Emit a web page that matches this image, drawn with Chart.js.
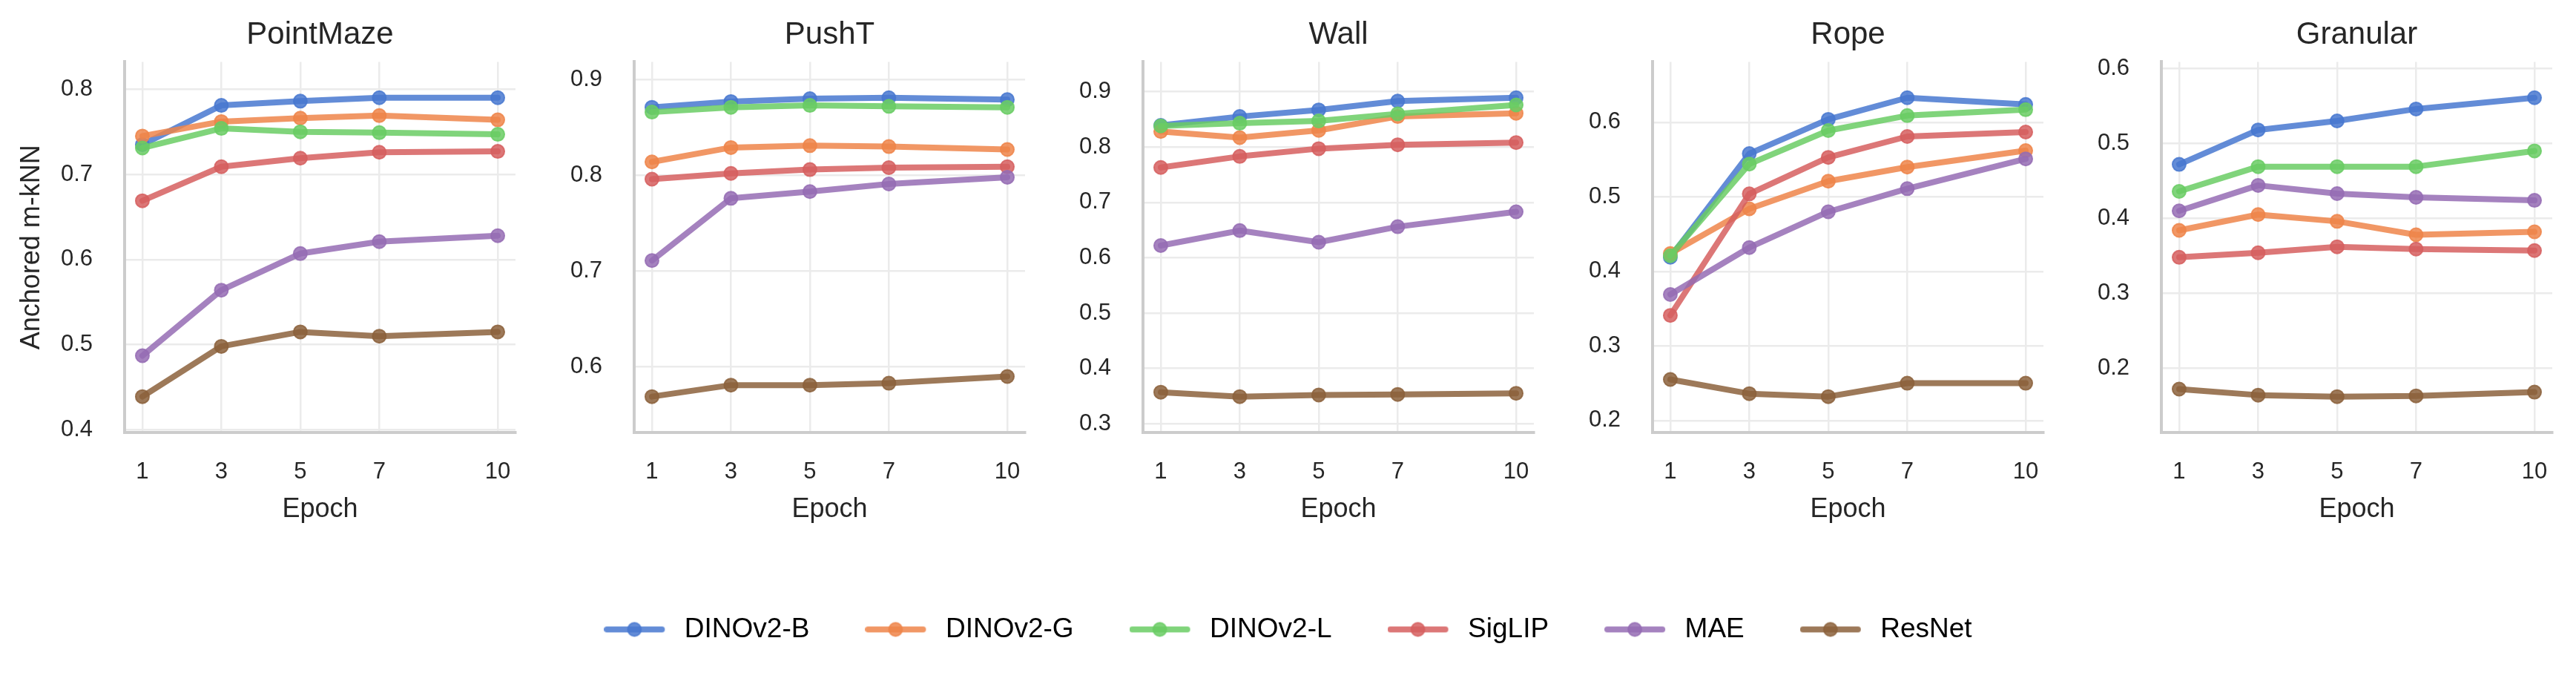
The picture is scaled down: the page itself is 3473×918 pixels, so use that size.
<!DOCTYPE html>
<html>
<head>
<meta charset="utf-8">
<script src="https://cdn.jsdelivr.net/npm/chart.js@4.4.1/dist/chart.umd.min.js"></script>
<style>
  html, body { margin: 0; padding: 0; background: #ffffff; }
  #page { position: relative; width: 3473px; height: 918px; overflow: hidden; }
  .box { position: absolute; }
</style>
</head>
<body>
<div id="page"></div>
<script>
// x values and series names
const epochs = [1, 3, 5, 7, 10];
const models = ["DINOv2-B", "DINOv2-G", "DINOv2-L", "SigLIP", "MAE", "ResNet"];
const tasks = ["PointMaze", "PushT", "Wall", "Rope", "Granular"];

// one row per model, same order as models
const pointMaze = [
    [0.735, 0.781, 0.786, 0.790, 0.790],
    [0.745, 0.762, 0.766, 0.769, 0.764],
    [0.731, 0.754, 0.750, 0.749, 0.747],
    [0.669, 0.709, 0.719, 0.726, 0.727],
    [0.487, 0.564, 0.607, 0.621, 0.628],
    [0.439, 0.498, 0.515, 0.510, 0.515]
];
const pushT = [
    [0.871, 0.877, 0.880, 0.881, 0.879],
    [0.814, 0.829, 0.831, 0.830, 0.827],
    [0.866, 0.871, 0.873, 0.872, 0.871],
    [0.796, 0.802, 0.806, 0.808, 0.809],
    [0.711, 0.776, 0.783, 0.791, 0.798],
    [0.569, 0.581, 0.581, 0.583, 0.590]
];
const wall = [
    [0.839, 0.855, 0.867, 0.883, 0.889],
    [0.828, 0.817, 0.830, 0.855, 0.861],
    [0.838, 0.843, 0.847, 0.860, 0.876],
    [0.763, 0.783, 0.797, 0.804, 0.808],
    [0.622, 0.649, 0.628, 0.656, 0.683],
    [0.357, 0.349, 0.352, 0.353, 0.355]
];
const rope = [
    [0.419, 0.558, 0.604, 0.633, 0.624],
    [0.424, 0.484, 0.521, 0.540, 0.562],
    [0.421, 0.544, 0.589, 0.609, 0.617],
    [0.341, 0.504, 0.553, 0.581, 0.587],
    [0.369, 0.432, 0.480, 0.511, 0.551],
    [0.255, 0.236, 0.232, 0.250, 0.250]
];
const granular = [
    [0.472, 0.518, 0.530, 0.546, 0.561],
    [0.384, 0.405, 0.396, 0.378, 0.382],
    [0.436, 0.469, 0.469, 0.469, 0.490],
    [0.348, 0.354, 0.362, 0.359, 0.357],
    [0.410, 0.444, 0.433, 0.428, 0.424],
    [0.172, 0.164, 0.162, 0.163, 0.168]
];

// y tick labels per panel
const pointMazeTicks = [0.4, 0.5, 0.6, 0.7, 0.8];
const pushTTicks = [0.6, 0.7, 0.8, 0.9];
const wallTicks = [0.3, 0.4, 0.5, 0.6, 0.7, 0.8, 0.9];
const ropeTicks = [0.2, 0.3, 0.4, 0.5, 0.6];
const granularTicks = [0.2, 0.3, 0.4, 0.5, 0.6];

const taskValues = [pointMaze, pushT, wall, rope, granular];
const taskTicks = [pointMazeTicks, pushTTicks, wallTicks, ropeTicks, granularTicks];

// seaborn "muted" palette, drawn with alpha
const colors = [
    "rgba(72, 120, 208, 0.85)",
    "rgba(238, 133, 74, 0.85)",
    "rgba(106, 204, 100, 0.85)",
    "rgba(214, 95, 95, 0.85)",
    "rgba(149, 108, 180, 0.85)",
    "rgba(140, 97, 60, 0.85)"
];

Chart.defaults.font.family = "'Liberation Sans', Arial, sans-serif";
Chart.defaults.color = "#262626";

var page = document.getElementById("page");

// layout of the panels (pixels)
var spineLeft = [168, 855, 1541, 2228, 2914];
var plotW = 527;
var plotBottom = 583;
var panelH = 720;

function addCanvas(left, top, w, h) {
    var div = document.createElement("div");
    div.className = "box";
    div.style.left = left + "px";
    div.style.top = top + "px";
    div.style.width = w + "px";
    div.style.height = h + "px";
    var cv = document.createElement("canvas");
    cv.width = w;
    cv.height = h;
    div.appendChild(cv);
    page.appendChild(div);
    return cv;
}

tasks.forEach(function (task, t) {
    var yAxisW = t === 0 ? 168 : 130;
    var width = yAxisW * 2 + plotW;
    var cv = addCanvas(spineLeft[t] - yAxisW, 0, width, panelH);

    // y limits: data range plus 12% each side
    var flat = [].concat.apply([], taskValues[t]);
    var lo = Math.min.apply(null, flat), hi = Math.max.apply(null, flat);
    var pad = (hi - lo) * 0.12;

    var datasets = models.map(function (m, i) {
        return {
            label: m,
            data: epochs.map(function (e, k) { return { x: e, y: taskValues[t][i][k] }; }),
            borderColor: colors[i],
            backgroundColor: colors[i],
            pointBackgroundColor: colors[i],
            pointBorderColor: colors[i],
            borderWidth: 8,
            pointRadius: 9,
            pointBorderWidth: 2,
            borderCapStyle: "round",
            borderJoinStyle: "round",
            tension: 0,
            order: models.length - i   // later series on top, as in matplotlib
        };
    });

    new Chart(cv.getContext("2d"), {
        type: "line",
        data: { datasets: datasets },
        options: {
            responsive: false,
            animation: false,
            events: [],
            layout: { padding: { left: 0, right: yAxisW, top: 0, bottom: 0 } },
            plugins: {
                legend: { display: false },
                tooltip: { enabled: false },
                title: {
                    display: true,
                    fullSize: false,   // centre over the plot area
                    text: task,
                    color: "#262626",
                    font: { size: 42, weight: "normal" },
                    padding: { top: 22, bottom: 11 }
                }
            },
            scales: {
                x: {
                    type: "linear",
                    min: 0.55,
                    max: 10.45,
                    afterFit: function (s) { s.height = panelH - plotBottom; },
                    afterBuildTicks: function (s) {
                        s.ticks = epochs.map(function (v) { return { value: v }; });
                    },
                    grid: { color: "#ebebeb", lineWidth: 2.5, drawTicks: false },
                    border: { color: "#cccccc", width: 4 },
                    ticks: {
                        padding: 35,
                        autoSkip: false,
                        maxRotation: 0,
                        color: "#262626",
                        font: { size: 31 },
                        callback: function (v) { return String(v); }
                    },
                    title: {
                        display: true,
                        text: "Epoch",
                        color: "#262626",
                        font: { size: 36 },
                        padding: { top: 0, bottom: 11 }
                    }
                },
                y: {
                    min: lo - pad,
                    max: hi + pad,
                    afterFit: function (s) { s.width = yAxisW; },
                    afterBuildTicks: function (s) {
                        s.ticks = taskTicks[t].map(function (v) { return { value: v }; });
                    },
                    grid: { color: "#ebebeb", lineWidth: 2.5, drawTicks: false },
                    border: { color: "#cccccc", width: 4 },
                    ticks: {
                        padding: 43,
                        color: "#262626",
                        font: { size: 31 },
                        callback: function (v) { return v.toFixed(1); }
                    },
                    title: {
                        display: t === 0,
                        text: "Anchored m-kNN",
                        color: "#262626",
                        font: { size: 36 },
                        padding: { top: 21, bottom: 0 }
                    }
                }
            }
        }
    });
});

// legend handle: line with a marker in the middle
function legendIcon(i) {
    var c = document.createElement("canvas");
    c.width = 90;
    c.height = 26;
    var g = c.getContext("2d");
    g.strokeStyle = colors[i];
    g.lineWidth = 8;
    g.lineCap = "round";
    g.beginPath();
    g.moveTo(4, 13);
    g.lineTo(78, 13);
    g.stroke();
    g.fillStyle = colors[i];
    g.beginPath();
    g.arc(41, 13, 9, 0, Math.PI * 2);
    g.fill();
    g.lineWidth = 2;
    g.stroke();
    return c;
}

var legendCanvas = addCanvas(0, 755, 3473, 420);
new Chart(legendCanvas.getContext("2d"), {
    type: "line",
    data: {
        datasets: models.map(function (m, i) {
            return { label: m, data: [], borderColor: colors[i], backgroundColor: colors[i] };
        })
    },
    options: {
        responsive: false,
        animation: false,
        events: [],
        scales: { x: { display: false }, y: { display: false } },
        plugins: {
            tooltip: { enabled: false },
            legend: {
                display: true,
                position: "top",
                labels: {
                    usePointStyle: true,
                    pointStyleWidth: 90,
                    padding: 75,
                    color: "#262626",
                    font: { size: 37 },
                    generateLabels: function () {
                        return models.map(function (m, i) {
                            return {
                                text: m,
                                pointStyle: legendIcon(i),
                                fillStyle: colors[i],
                                strokeStyle: colors[i],
                                lineWidth: 0,
                                hidden: false,
                                datasetIndex: i
                            };
                        });
                    }
                }
            }
        }
    }
});
</script>
</body>
</html>
